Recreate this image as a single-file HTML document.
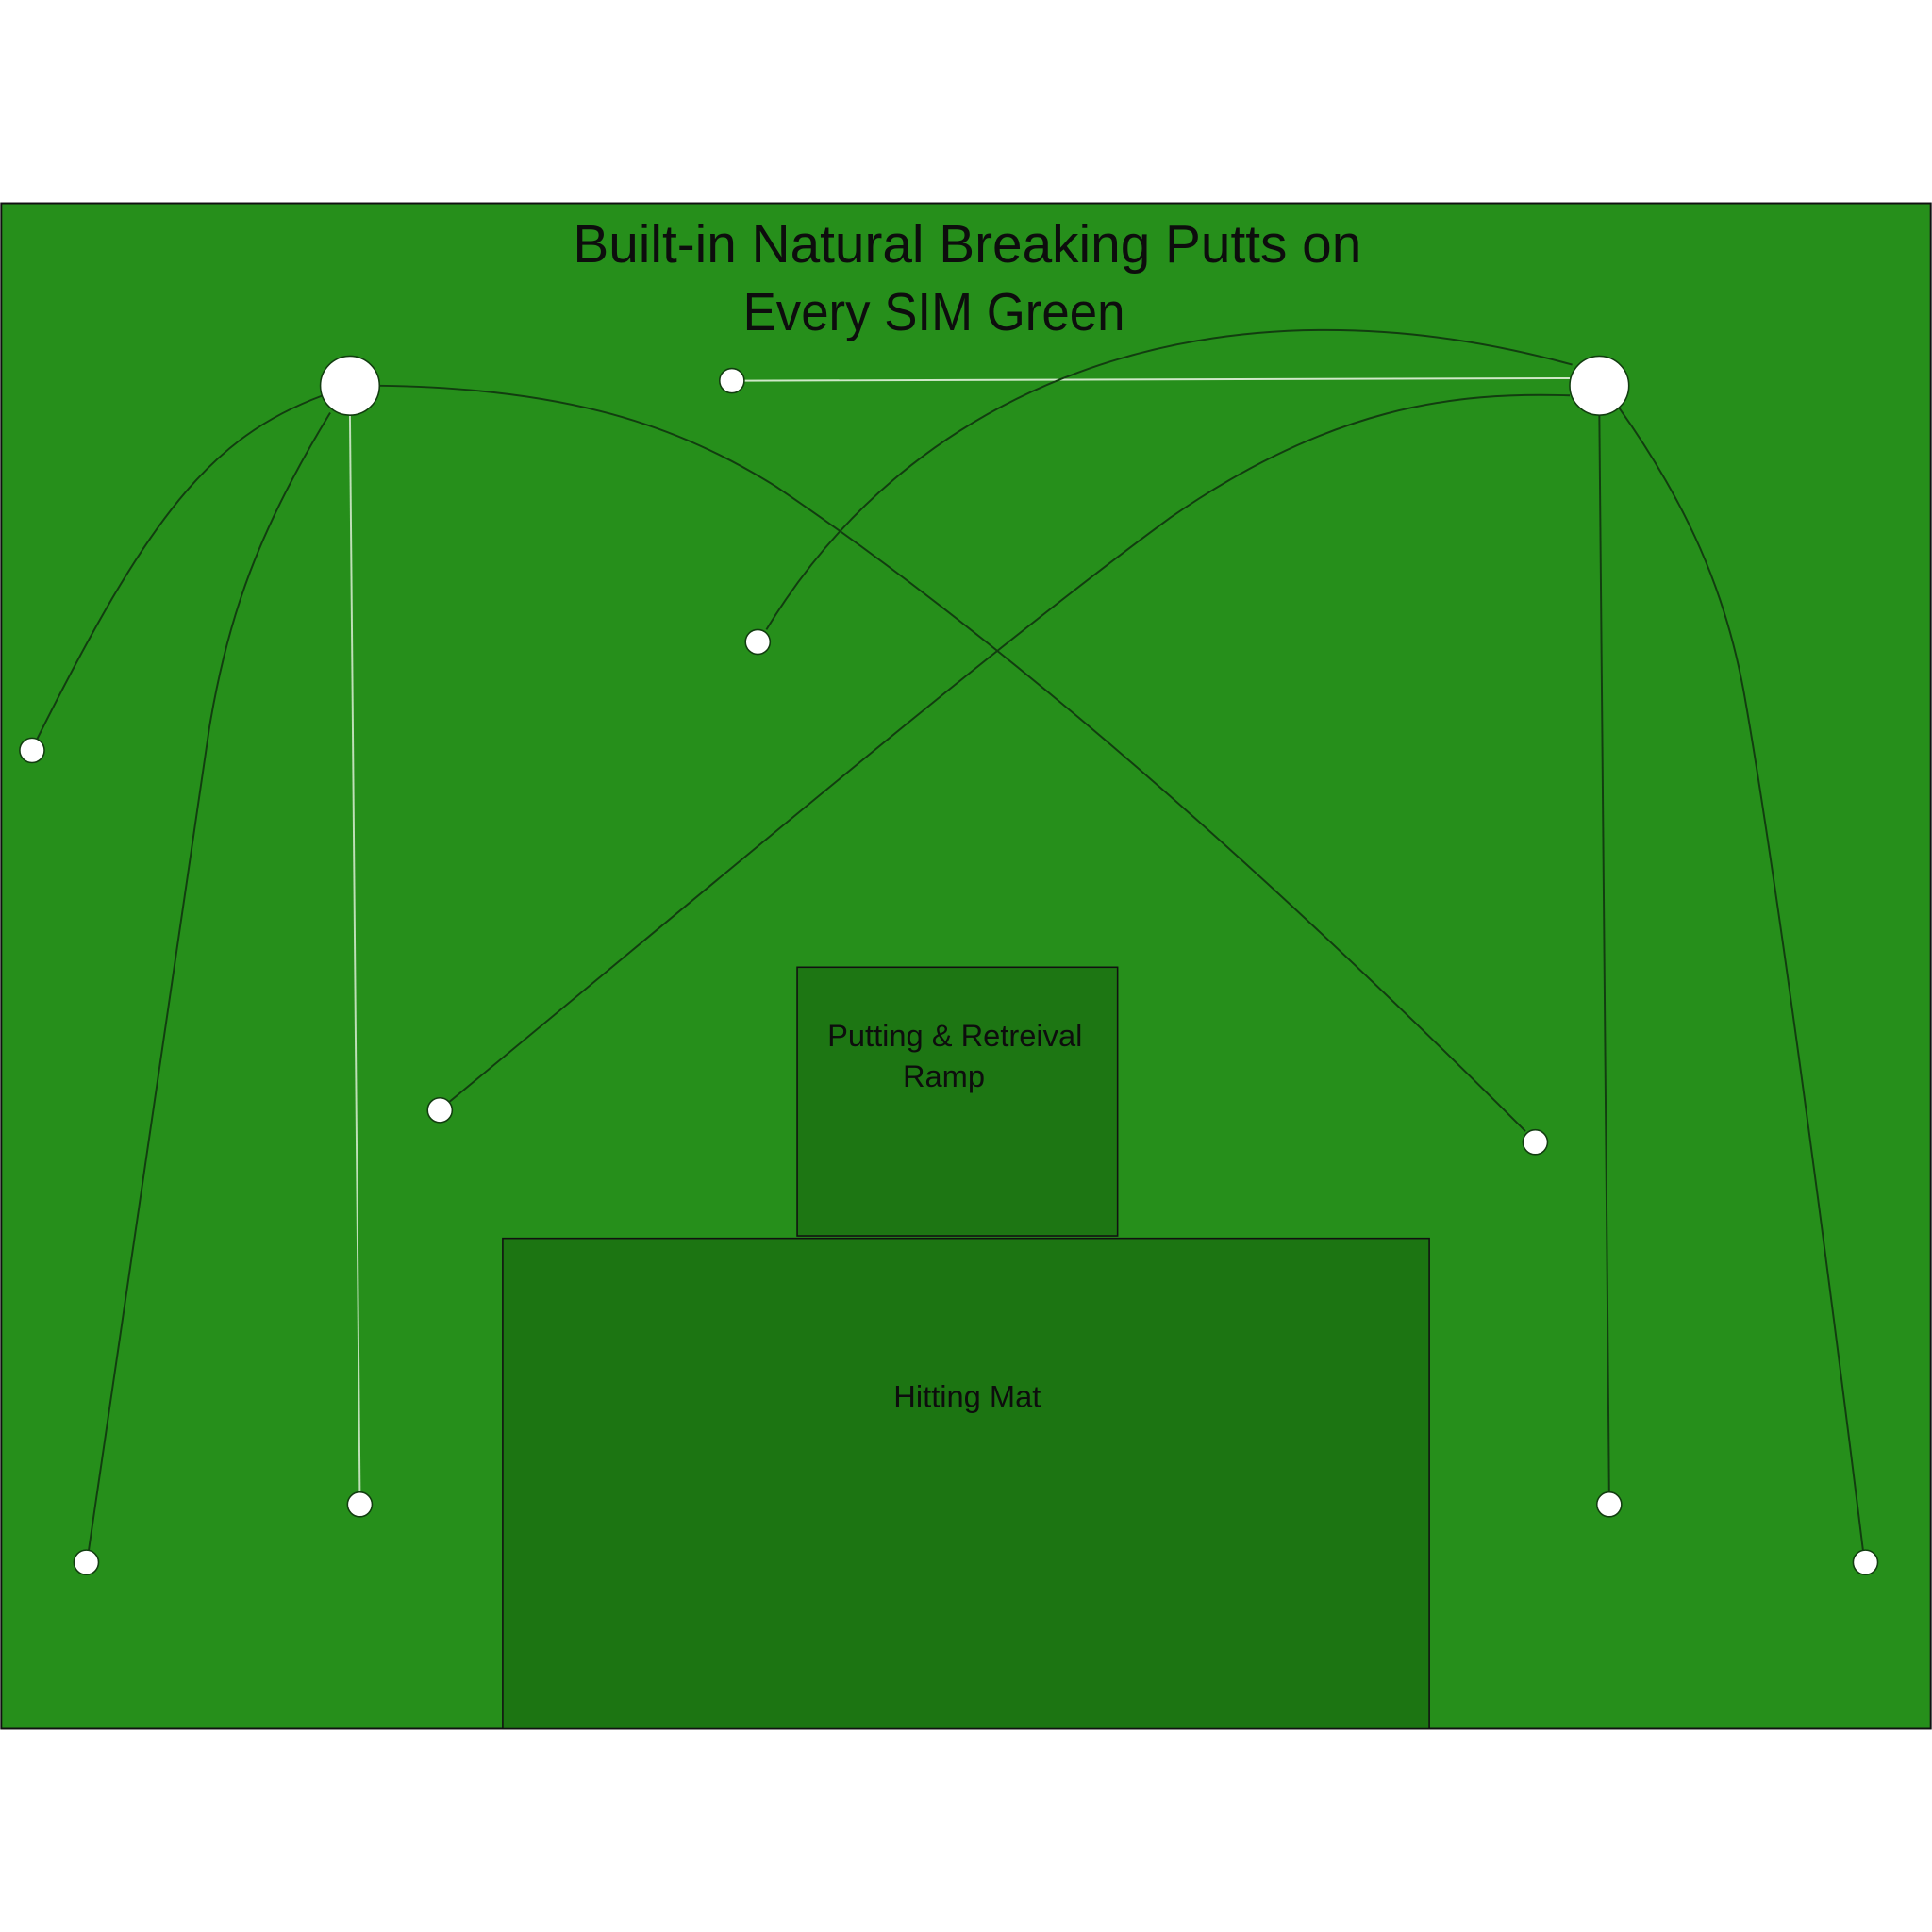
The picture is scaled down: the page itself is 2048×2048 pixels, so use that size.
<!DOCTYPE html>
<html><head><meta charset="utf-8"><style>html,body{margin:0;padding:0;background:#fff}svg{display:block}</style></head>
<body>
<svg width="2048" height="2048" viewBox="0 0 1568 1568" xmlns="http://www.w3.org/2000/svg">
<rect x="0" y="0" width="1568" height="1568" fill="#fff"/>
<rect x="1" y="165" width="1566" height="1238" fill="#268f1b" stroke="#111" stroke-width="1.5"/>
<rect x="647" y="785" width="260" height="218" fill="#1d7613" stroke="#111" stroke-width="1.2"/>
<rect x="408" y="1005" width="752" height="398" fill="#1c7512" stroke="#111" stroke-width="1.2"/>
<g font-family="Liberation Sans, sans-serif" fill="#0d0d0d" text-anchor="middle">
<text x="785" y="213" font-size="43" textLength="640" lengthAdjust="spacingAndGlyphs">Built-in Natural Breaking Putts on</text>
<text x="758" y="268" font-size="43" textLength="310" lengthAdjust="spacingAndGlyphs">Every SIM Green</text>
<text x="775" y="849" font-size="25">Putting &amp; Retreival</text>
<text x="766" y="882" font-size="25">Ramp</text>
<text x="785" y="1142" font-size="25">Hitting Mat</text>
</g>
<g fill="none" stroke="#123d10" stroke-width="1.5">
<path d="M262,321 C170,355 120,420 30,600"/>
<path d="M268,335 C210,430 185,500 170,590 L72,1258"/>
<path d="M284,337 L292,1211" stroke="#bfe0b8"/>
<path d="M308,313 C460,315 550,345 630,395 C800,510 1000,680 1238,918"/>
<path d="M604,309 L1274,307" stroke="#cfe8c8"/>
<path d="M622,511 C750,300 1000,220 1276,296"/>
<path d="M365,894 C600,700 800,530 950,420 C1080,330 1180,318 1274,321"/>
<path d="M1298,337 L1306,1211"/>
<path d="M1314,331 C1370,410 1400,480 1415,560 C1440,700 1480,1000 1512,1258"/>
</g>
<g fill="#fff" stroke="#123d10" stroke-width="1.2">
<circle cx="284" cy="313" r="24"/>
<circle cx="1298" cy="313" r="24"/>
<circle cx="594" cy="309" r="10"/>
<circle cx="615" cy="521" r="10"/>
<circle cx="26" cy="609" r="10"/>
<circle cx="357" cy="901" r="10"/>
<circle cx="1246" cy="927" r="10"/>
<circle cx="70" cy="1268" r="10"/>
<circle cx="292" cy="1221" r="10"/>
<circle cx="1306" cy="1221" r="10"/>
<circle cx="1514" cy="1268" r="10"/>
</g>
</svg>
</body></html>
